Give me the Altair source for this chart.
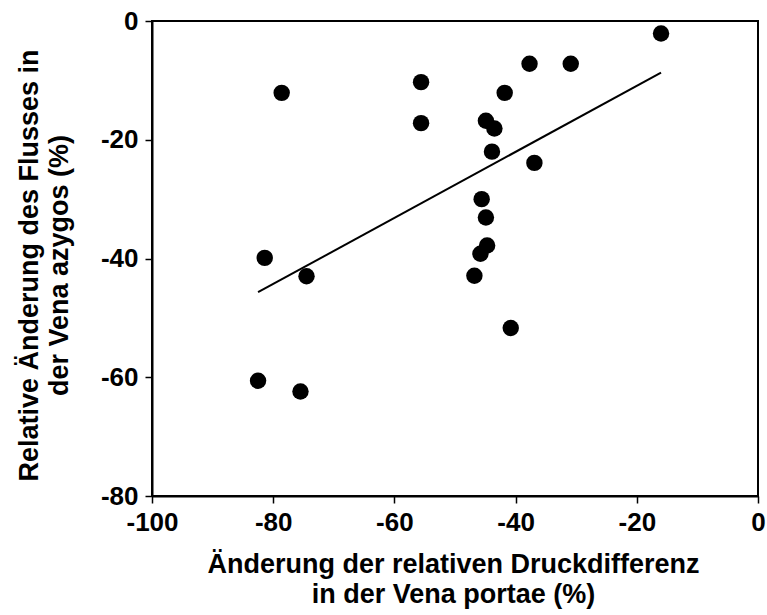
import altair as alt
import pandas as pd

# Change of relative pressure difference in the portal vein (%)
druck = [-16.0, -30.9, -37.7, -41.8, -55.6, -55.6, -78.6, -44.9, -43.5, -43.9,
         -36.9, -45.6, -44.9, -44.7, -45.8, -46.8, -40.8, -81.4, -74.5, -82.5, -75.5]
# Relative change of azygos flow (%)
fluss = [-2.1, -7.2, -7.2, -12.1, -10.3, -17.2, -12.1, -16.8, -18.1, -22.0,
         -23.9, -30.0, -33.1, -37.8, -39.2, -42.9, -51.7, -39.9, -43.0, -60.6, -62.4]

x_ticks = [-100, -80, -60, -40, -20, 0]
y_ticks = [0, -20, -40, -60, -80]

df = pd.DataFrame({"druck": druck, "fluss": fluss})

FONT = "Liberation Sans"

x_enc = alt.X(
    "druck:Q",
    scale=alt.Scale(domain=[-100, 0], nice=False, zero=False),
    axis=alt.Axis(
        values=x_ticks,
        labelExpr="toString(datum.value)",
        labelFlush=False,
        title=["Änderung der relativen Druckdifferenz", "in der Vena portae (%)"],
        titleX=301,
        titleY=76,
        titleBaseline="alphabetic",
        titleLineHeight=30,
        labelPadding=6,
    ),
)
y_enc = alt.Y(
    "fluss:Q",
    scale=alt.Scale(domain=[-80, 0], nice=False, zero=False),
    axis=alt.Axis(
        values=y_ticks,
        labelExpr="toString(datum.value)",
        labelFlush=False,
        title=["Relative Änderung des Flusses in", "der Vena azygos (%)"],
        titleX=-115,
        titleY=244,
        titleBaseline="alphabetic",
        titleLineHeight=30,
        labelPadding=7,
    ),
)

points = alt.Chart(df).mark_circle(size=270, color="black", opacity=1).encode(
    x=x_enc, y=y_enc
)

trend = (
    alt.Chart(df)
    .transform_regression("druck", "fluss")
    .mark_line(color="black", strokeWidth=2)
    .encode(x="druck:Q", y="fluss:Q")
)

chart = (
    alt.layer(points, trend)
    .properties(
        width=606,
        height=475,
        autosize=alt.AutoSizeParams(type="none"),
        padding={"left": 152, "top": 21, "right": 9, "bottom": 119},
        background="white",
    )
    .configure_view(stroke="black", strokeWidth=2)
    .configure_axis(
        labelFont=FONT,
        labelFontSize=26,
        labelFontWeight="bold",
        labelColor="black",
        titleFont=FONT,
        titleFontSize=27,
        titleFontWeight="bold",
        titleColor="black",
        domainColor="black",
        domainWidth=2,
        tickColor="black",
        tickWidth=1.5,
        tickSize=7,
        grid=False,
    )
)

chart.save("out.html", embed_options={"renderer": "svg", "actions": False})
